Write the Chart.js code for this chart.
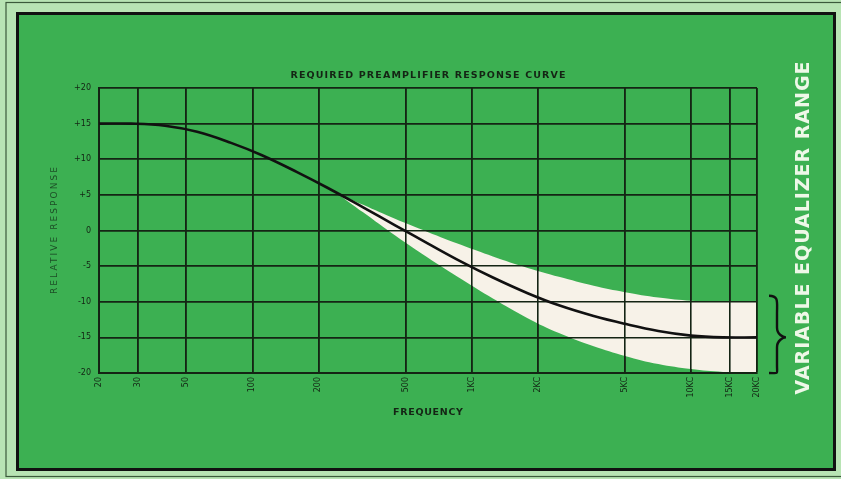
<!DOCTYPE html>
<html>
<head>
<meta charset="utf-8">
<script src="https://cdn.jsdelivr.net/npm/chart.js@4/dist/chart.umd.min.js"></script>
<style>
  html, body { margin: 0; padding: 0; background: #b8e4b4; }
  #wrap { width: 841px; height: 479px; position: relative; }
</style>
</head>
<body>
<div id="wrap"><canvas id="c" width="841" height="479"></canvas></div>
<script>
// ---- data ----
const chartTitle = 'REQUIRED PREAMPLIFIER RESPONSE CURVE';
const xTitle = 'FREQUENCY';
const yTitle = 'RELATIVE RESPONSE';
const sideLabel = 'VARIABLE EQUALIZER RANGE';

const xTickValues = [20, 30, 50, 100, 200, 500, 1000, 2000, 5000, 10000, 15000, 20000];
const xTickLabels = ['20', '30', '50', '100', '200', '500', '1KC', '2KC', '5KC', '10KC', '15KC', '20KC'];
const yTickValues = [20, 15, 10, 5, 0, -5, -10, -15, -20];
const yTickLabels = ['+20', '+15', '+10', '+5', '0', '-5', '-10', '-15', '-20'];

const curveFreqs = [20, 28, 40, 56, 80, 110, 160, 220, 320, 450, 630, 900, 1250, 1800, 2500, 3600, 5000, 7100, 10000, 14000, 20000];
const responseCurve = [15.0, 15.0, 14.7, 13.85, 12.3, 10.6, 8.2, 6.0, 3.25, 0.7, -1.8, -4.4, -6.6, -8.8, -10.5, -12.0, -13.1, -14.1, -14.75, -15.0, -15.0];

const bandFreqs = [240, 320, 450, 630, 900, 1250, 1800, 2500, 3600, 5000, 7100, 10000, 14000, 20000];
const bandUpper = [5.35, 3.6, 1.6, -0.2, -2.05, -3.65, -5.25, -6.5, -7.75, -8.65, -9.4, -9.85, -10.0, -10.0];
const bandLower = [5.35, 2.55, -0.75, -3.8, -6.85, -9.55, -12.3, -14.4, -16.25, -17.6, -18.75, -19.45, -19.85, -20.0];

const toPts = (xs, ys) => xs.map((x, i) => ({ x: x, y: ys[i] }));

const GREEN = '#3cb052';
const GRID = '#142414';
const CREAM = '#f7f2e8';

function fitText(ctx, text, cx, cy, width, font, color, rot) {
  ctx.save();
  ctx.font = font;
  ctx.letterSpacing = '0px';
  const w = ctx.measureText(text).width;
  const sp = (width - w) / (text.length - 1);
  ctx.letterSpacing = sp + 'px';
  ctx.fillStyle = color;
  ctx.textBaseline = 'middle';
  ctx.textAlign = 'left';
  ctx.translate(cx, cy);
  if (rot) ctx.rotate(rot);
  ctx.fillText(text, -width / 2, 0);
  ctx.restore();
}

const framePlugin = {
  id: 'frame',
  beforeDraw(chart) {
    const ctx = chart.ctx;
    ctx.save();
    ctx.fillStyle = '#b8e4b4';
    ctx.fillRect(0, 0, 841, 479);
    ctx.strokeStyle = '#3b5a3b';
    ctx.lineWidth = 1.2;
    ctx.strokeRect(6, 2.5, 900, 474);
    ctx.fillStyle = GREEN;
    ctx.fillRect(17, 13, 818, 457);
    ctx.strokeStyle = '#111';
    ctx.lineWidth = 3;
    ctx.strokeRect(17.5, 13.5, 817, 456);
    ctx.restore();
  },
  beforeDatasetDraw(chart, args) {
    if (args.index === 0) {
      const a = chart.chartArea;
      chart.scales.x.drawGrid(a);
      chart.scales.y.drawGrid(a);
    }
  },
  afterDraw(chart) {
    const ctx = chart.ctx;
    const a = chart.chartArea;
    const cx = (a.left + a.right) / 2;
    fitText(ctx, chartTitle, cx, a.top - 12, 275, 'bold 9.5px "DejaVu Sans"', '#142414', 0);
    fitText(ctx, xTitle, cx, a.bottom + 40, 70, 'bold 9.5px "DejaVu Sans"', '#142414', 0);
    fitText(ctx, yTitle, 55, (a.top + a.bottom) / 2, 127, '9px "DejaVu Sans"', '#1d4d26', -Math.PI / 2);
    fitText(ctx, sideLabel, 804, 228, 333, 'bold 19px "DejaVu Sans"', '#eef8e8', -Math.PI / 2);
    // brace
    const yb = chart.scales.y;
    const t = yb.getPixelForValue(-10), b = yb.getPixelForValue(-20), m = (t + b) / 2;
    const x0 = 769, x1 = 777, x2 = 786;
    ctx.save();
    ctx.strokeStyle = '#111';
    ctx.lineWidth = 2.4;
    ctx.beginPath();
    ctx.moveTo(x0, t - 6);
    ctx.bezierCurveTo(x1 + 2, t - 6, x1, t, x1, t + 12);
    ctx.lineTo(x1, m - 10);
    ctx.bezierCurveTo(x1, m - 3, x2 - 3, m, x2, m);
    ctx.bezierCurveTo(x2 - 3, m, x1, m + 3, x1, m + 10);
    ctx.lineTo(x1, b - 8);
    ctx.bezierCurveTo(x1, b + 2, x1 + 2, b, x0, b);
    ctx.stroke();
    ctx.restore();
  }
};

new Chart(document.getElementById('c'), {
  type: 'line',
  data: {
    datasets: [
      { label: 'Response', data: toPts(curveFreqs, responseCurve), borderColor: '#111', borderWidth: 2.6,
        pointRadius: 0, tension: 0.4, fill: false, order: 0 },
      { label: 'Upper', data: toPts(bandFreqs, bandUpper), borderWidth: 0, borderColor: 'rgba(0,0,0,0)',
        pointRadius: 0, tension: 0.4, fill: false, order: 1 },
      { label: 'Lower', data: toPts(bandFreqs, bandLower), borderWidth: 0, borderColor: 'rgba(0,0,0,0)',
        backgroundColor: CREAM, pointRadius: 0, tension: 0.4, fill: { target: 1 }, order: 2 }
    ]
  },
  options: {
    responsive: false,
    animation: false,
    devicePixelRatio: 1,
    layout: { padding: { left: 39, right: 84, top: 88, bottom: 66 } },
    plugins: { legend: { display: false }, title: { display: false }, tooltip: { enabled: false } },
    scales: {
      x: {
        type: 'logarithmic', min: 20, max: 20000,
        afterBuildTicks(s) { s.ticks = xTickValues.map(v => ({ value: v })); },
        afterFit(s) { s.height = 40; },
        ticks: {
          autoSkip: false, maxRotation: 90, minRotation: 90, padding: 4,
          color: '#142414', font: { family: 'DejaVu Sans', size: 8 },
          callback(v) { const i = xTickValues.indexOf(v); return i >= 0 ? xTickLabels[i] : ''; }
        },
        grid: { color: GRID, lineWidth: 1.6, drawTicks: false },
        border: { color: GRID, width: 2 }
      },
      y: {
        type: 'linear', min: -20, max: 20,
        afterBuildTicks(s) { s.ticks = yTickValues.map(v => ({ value: v })); },
        afterFit(s) { s.width = 60; },
        ticks: {
          padding: 8, color: '#142414', font: { family: 'DejaVu Sans', size: 8 },
          callback(v) { const i = yTickValues.indexOf(v); return i >= 0 ? yTickLabels[i] : ''; }
        },
        grid: { color: GRID, lineWidth: 1.6, drawTicks: false },
        border: { color: GRID, width: 2 }
      }
    }
  },
  plugins: [framePlugin]
});
</script>
</body>
</html>
